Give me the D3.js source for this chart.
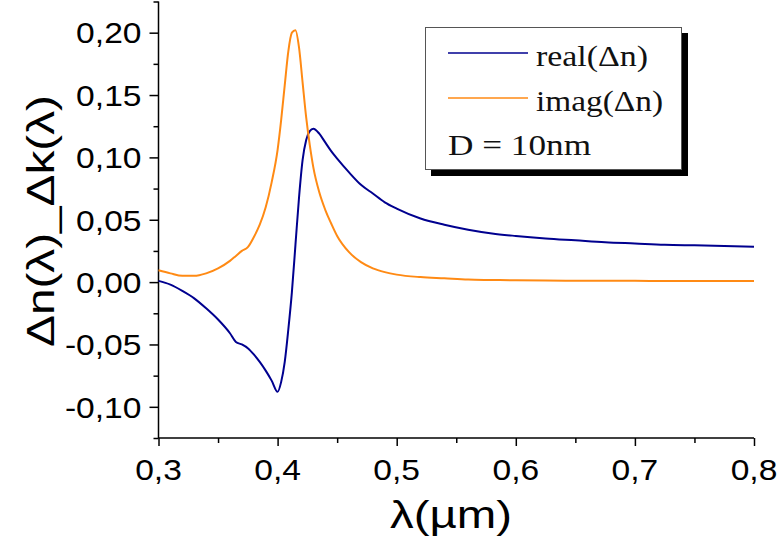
<!DOCTYPE html>
<html>
<head>
<meta charset="utf-8">
<script src="https://cdn.jsdelivr.net/npm/d3@7"></script>
<style>
    body { margin: 0; background: #fff; }
    svg { display: block; }
</style>
</head>
<body>
<div id="chart"></div>
<script>
var width = 780;
var height = 547;

// plot area edges
var plotLeft = 158.5, plotRight = 754, plotTop = 1.5, plotBottom = 438;

// wavelength grid (µm)
var lambda = [0.30, 0.31, 0.32, 0.33, 0.34, 0.35, 0.36, 0.365, 0.37, 0.375,
    0.38, 0.385, 0.39, 0.395, 0.40, 0.403, 0.406, 0.409, 0.412, 0.415,
    0.418, 0.421, 0.424, 0.427, 0.43, 0.435, 0.44, 0.445, 0.45, 0.46,
    0.47, 0.48, 0.49, 0.50, 0.52, 0.54, 0.56, 0.58, 0.60, 0.625,
    0.65, 0.675, 0.70, 0.725, 0.75, 0.775, 0.80];

// real part of delta n
var realDn = [0.001, -0.002, -0.007, -0.013, -0.021, -0.030, -0.041, -0.048, -0.050, -0.053,
    -0.058, -0.064, -0.071, -0.079, -0.088, -0.080, -0.064, -0.038, -0.008, 0.030,
    0.068, 0.098, 0.114, 0.121, 0.123, 0.119, 0.112, 0.105, 0.099, 0.088,
    0.078, 0.071, 0.064, 0.059, 0.051, 0.046, 0.042, 0.039, 0.037, 0.035,
    0.0335, 0.032, 0.031, 0.030, 0.0295, 0.029, 0.0283];

// imaginary part of delta n
var imagDn = [0.0095, 0.007, 0.005, 0.005, 0.007, 0.011, 0.017, 0.021, 0.025, 0.028,
    0.036, 0.046, 0.060, 0.080, 0.106, 0.130, 0.158, 0.185, 0.200, 0.202,
    0.188, 0.160, 0.132, 0.110, 0.092, 0.072, 0.058, 0.047, 0.037, 0.024,
    0.016, 0.011, 0.008, 0.006, 0.004, 0.003, 0.002, 0.0017, 0.0014, 0.0012,
    0.0011, 0.001, 0.001, 0.0009, 0.0009, 0.0008, 0.0008];

var xTicks = [0.3, 0.4, 0.5, 0.6, 0.7, 0.8];
var xMinor = [0.35, 0.45, 0.55, 0.65, 0.75];
var yTicks = [-0.10, -0.05, 0.00, 0.05, 0.10, 0.15, 0.20];
var yMinor = [-0.125, -0.075, -0.025, 0.025, 0.075, 0.125, 0.175, 0.225];

var seriesNames = ["real(\u0394n)", "imag(\u0394n)"];
var seriesColors = ["#00008f", "#ff8a14"];
var noteText = "D = 10nm";

var xTitle = "\u03bb(\u00b5m)";
var yTitle = "\u0394n(\u03bb)_\u0394k(\u03bb)";

// comma decimal, plain hyphen for negatives
var locale = d3.formatLocale({ decimal: ",", thousands: ".", grouping: [3], currency: ["", ""], minus: "-" });

var x = d3.scaleLinear().domain([0.3, 0.8]).range([plotLeft, plotRight]);
var y = d3.scaleLinear().domain([-0.125, 0.225]).range([plotBottom, plotTop]);

var svg = d3.select("#chart").append("svg")
    .attr("width", width)
    .attr("height", height);

/*====================================================================
       axes
    ==================================================================*/
svg.append("g")
    .attr("transform", "translate(0," + plotBottom + ")")
    .call(d3.axisBottom(x).tickValues(xTicks).tickSize(8).tickFormat(""));
svg.append("g")
    .attr("transform", "translate(0," + plotBottom + ")")
    .call(d3.axisBottom(x).tickValues(xMinor).tickSize(5).tickFormat(""));

svg.append("g")
    .attr("transform", "translate(" + plotLeft + ",0)")
    .call(d3.axisLeft(y).tickValues(yTicks).tickSize(9).tickFormat(""));
svg.append("g")
    .attr("transform", "translate(" + plotLeft + ",0)")
    .call(d3.axisLeft(y).tickValues(yMinor).tickSize(5).tickFormat(""));

svg.selectAll(".domain").remove();
svg.selectAll(".tick line").attr("stroke", "#000").attr("stroke-width", 1.5);

// axis lines drawn without the end caps
svg.append("line")
    .attr("x1", plotLeft).attr("x2", plotRight)
    .attr("y1", plotBottom).attr("y2", plotBottom)
    .attr("stroke", "#000").attr("stroke-width", 1.5);
svg.append("line")
    .attr("x1", plotLeft).attr("x2", plotLeft)
    .attr("y1", plotTop).attr("y2", plotBottom)
    .attr("stroke", "#000").attr("stroke-width", 1.5);

// tick labels, slightly widened like the original export
var labelFont = "'Liberation Sans', Arial, sans-serif";
var fmtY = locale.format(".2f");
var fmtX = locale.format(".1f");

svg.selectAll(".ylabel")
    .data(yTicks)
    .enter().append("text")
    .attr("class", "ylabel")
    .attr("transform", function (d) { return "translate(" + (plotLeft - 17) + "," + y(d) + ") scale(1.12,1)"; })
    .attr("dy", "0.36em")
    .attr("text-anchor", "end")
    .style("font-family", labelFont)
    .style("font-size", "30px")
    .text(function (d) { return fmtY(d); });

svg.selectAll(".xlabel")
    .data(xTicks)
    .enter().append("text")
    .attr("class", "xlabel")
    .attr("transform", function (d) { return "translate(" + x(d) + "," + (plotBottom + 42) + ") scale(1.12,1)"; })
    .attr("text-anchor", "middle")
    .style("font-family", labelFont)
    .style("font-size", "30px")
    .text(function (d) { return fmtX(d); });

// axis titles
svg.append("text")
    .attr("x", 451)
    .attr("y", 528)
    .attr("text-anchor", "middle")
    .attr("textLength", 122)
    .attr("lengthAdjust", "spacingAndGlyphs")
    .style("font-family", labelFont)
    .style("font-size", "38px")
    .text(xTitle);

svg.append("text")
    .attr("transform", "translate(54,221) rotate(-90)")
    .attr("text-anchor", "middle")
    .attr("textLength", 252)
    .attr("lengthAdjust", "spacingAndGlyphs")
    .style("font-family", labelFont)
    .style("font-size", "38px")
    .text(yTitle);

/*====================================================================
       curves
    ==================================================================*/
var line = d3.line()
    .x(function (d) { return x(d[0]); })
    .y(function (d) { return y(d[1]); })
    .curve(d3.curveMonotoneX);

[realDn, imagDn].forEach(function (values, i) {
    svg.append("path")
        .datum(lambda.map(function (l, j) { return [l, values[j]]; }))
        .attr("fill", "none")
        .attr("stroke", seriesColors[i])
        .attr("stroke-width", 2)
        .attr("stroke-linejoin", "round")
        .attr("d", line);
});

/*====================================================================
       legend
    ==================================================================*/
var legend = svg.append("g");
var legendFont = "'Liberation Serif', 'Times New Roman', serif";

legend.append("rect")
    .attr("x", 431).attr("y", 33)
    .attr("width", 257).attr("height", 143)
    .attr("fill", "#000");
legend.append("rect")
    .attr("x", 425.5).attr("y", 27.5)
    .attr("width", 256).attr("height", 142)
    .attr("fill", "#fff")
    .attr("stroke", "#555")
    .attr("stroke-width", 1);

var legendRows = [53, 98];
seriesNames.forEach(function (name, i) {
    legend.append("line")
        .attr("x1", 448).attr("x2", 528)
        .attr("y1", legendRows[i]).attr("y2", legendRows[i])
        .attr("stroke", seriesColors[i])
        .attr("stroke-width", 1.6);
    legend.append("text")
        .attr("x", 536)
        .attr("y", legendRows[i] + 13)
        .attr("textLength", i === 0 ? 112 : 127)
        .attr("lengthAdjust", "spacingAndGlyphs")
        .style("font-family", legendFont)
        .style("font-size", "30px")
        .style("fill", "#111")
        .text(name);
});

legend.append("text")
    .attr("x", 448)
    .attr("y", 155)
    .attr("textLength", 143)
    .attr("lengthAdjust", "spacingAndGlyphs")
    .style("font-family", legendFont)
    .style("font-size", "30px")
    .style("fill", "#111")
    .text(noteText);
</script>
</body>
</html>
